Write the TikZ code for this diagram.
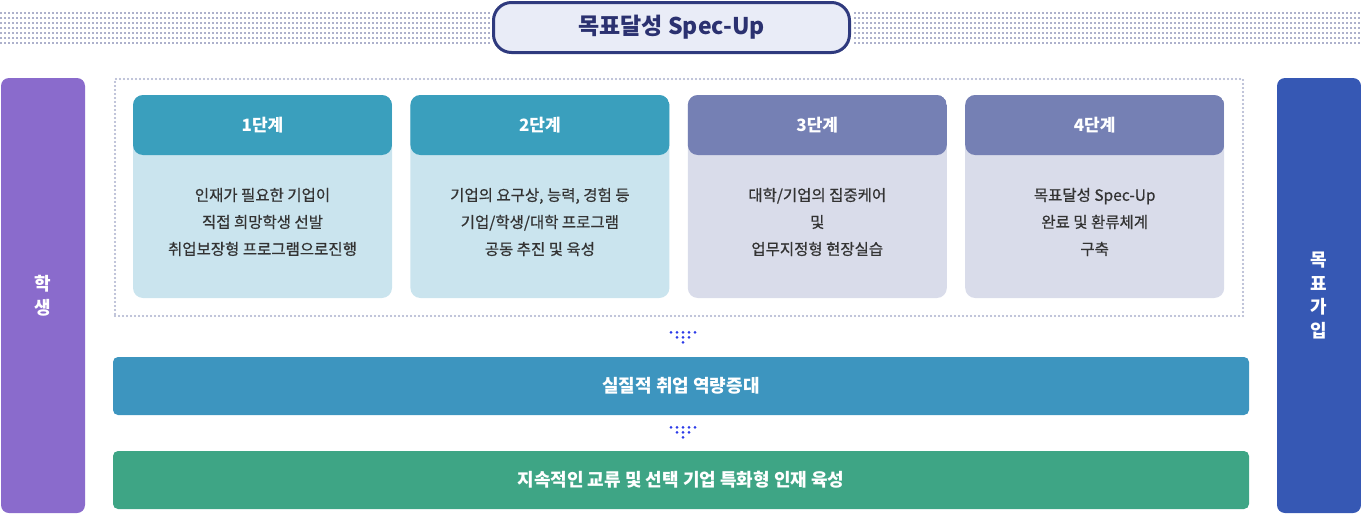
\documentclass[tikz,border=0pt]{standalone}
\usepackage{fontspec}
\setmainfont{Noto Sans CJK KR}
\newfontfamily\krmed[FakeBold=0.6]{Noto Sans CJK KR}
\usetikzlibrary{positioning}

\definecolor{navy}{HTML}{2F3A7E}
\definecolor{navytext}{HTML}{2B3170}
\definecolor{titlefill}{HTML}{E9ECF7}
\definecolor{bandgray}{HTML}{ADB1CC}
\definecolor{framegray}{HTML}{ABB0CC}
\definecolor{stupurple}{HTML}{8A6BCC}
\definecolor{goalblue}{HTML}{3658B4}
\definecolor{tealhead}{HTML}{3A9FBD}
\definecolor{tealbody}{HTML}{CAE4EE}
\definecolor{slatehead}{HTML}{7580B4}
\definecolor{slatebody}{HTML}{D9DCEA}
\definecolor{gainblue}{HTML}{3D95BF}
\definecolor{growgreen}{HTML}{3EA585}
\definecolor{dotblue}{HTML}{2B3AE8}
\definecolor{bodygray}{HTML}{333333}

\begin{document}
\begin{tikzpicture}[x=1pt,y=-1pt,
    titlebox/.style={draw=navy,line width=3pt,fill=titlefill,rounded corners=18pt,
      minimum width=356pt,minimum height=50pt,text=navytext,font=\fontsize{23}{26}\selectfont\bfseries},
    sidebar/.style={rounded corners=8pt,minimum width=84pt,minimum height=435pt,inner sep=0pt,
      text=white,align=center,font=\fontsize{18}{23.5}\selectfont\bfseries},
    stepcard/.style={minimum width=259pt,minimum height=203pt,rounded corners=10pt,inner sep=0pt,
      path picture={\fill[#1] (path picture bounding box.north west)
        rectangle ([yshift=-60pt]path picture bounding box.north east);}},
    headtext/.style={text=white,font=\fontsize{17}{20}\selectfont\bfseries},
    bodytext/.style={text=bodygray,align=center,font=\krmed\fontsize{15.5}{27}\selectfont},
    wide/.style={rounded corners=5pt,minimum width=1136pt,minimum height=58pt,
      text=white,font=\fontsize{18}{21}\selectfont\bfseries},
    band/.style={bandgray,line width=2pt,dash pattern=on 2pt off 2pt}]
    \useasboundingbox (0,0) rectangle (1361,514);
    \foreach \k in {0,...,6} {
      \draw[band] (0,{13.3+5*\k}) -- (490,{13.3+5*\k});
      \draw[band] (854,{13.3+5*\k}) -- (1361,{13.3+5*\k});
    }
    \node[titlebox] (goal) at (671.5,27.5) {목표달성 Spec-Up};
    \node[sidebar,fill=stupurple] (stu) at (43,295.5) {학\\생};
    \node[sidebar,fill=goalblue] (join) at (1319,295.5) {목\\표\\가\\입};
    \node[draw=framegray,line width=2.2pt,line cap=round,dash pattern=on 0pt off 4pt,
      minimum width=1128pt,minimum height=237pt] (box) at (679,197.5) {};
    \node[stepcard=tealhead,fill=tealbody] (s1) at (262.5,196.5) {};
    \node[stepcard=tealhead,fill=tealbody,right=18pt of s1] (s2) {};
    \node[stepcard=slatehead,fill=slatebody,right=18pt of s2] (s3) {};
    \node[stepcard=slatehead,fill=slatebody,right=18pt of s3] (s4) {};
    \node[headtext] (h1) at ([yshift=-30pt]s1.north) {1단계};
    \node[headtext] (h2) at ([yshift=-30pt]s2.north) {2단계};
    \node[headtext] (h3) at ([yshift=-30pt]s3.north) {3단계};
    \node[headtext] (h4) at ([yshift=-30pt]s4.north) {4단계};
    \node[bodytext] (d1) at ([yshift=-25.5pt]s1.center) {인재가 필요한 기업이\\직접 희망학생 선발\\취업보장형 프로그램으로진행};
    \node[bodytext] (d2) at ([yshift=-25.5pt]s2.center) {기업의 요구상, 능력, 경험 등\\기업/학생/대학 프로그램\\공동 추진 및 육성};
    \node[bodytext] (d3) at ([yshift=-25.5pt]s3.center) {대학/기업의 집중케어\\및\\업무지정형 현장실습};
    \node[bodytext] (d4) at ([yshift=-25.5pt]s4.center) {목표달성 Spec-Up\\완료 및 환류체계\\구축};
    \node[wide,fill=gainblue] (gain) at (681,386) {실질적 취업 역량증대};
    \node[wide,fill=growgreen] (grow) at (681,480) {지속적인 교류 및 선택 기업 특화형 인재 육성};
    % dot arrows
    \coordinate (a1) at (683,332.3);
    \coordinate (a2) at (683,427.3);
    \foreach \c in {a1,a2} {
      \foreach \i in {-2,...,2} \fill[dotblue] ([xshift=\i*6pt]\c) circle[radius=1.5pt];
      \foreach \i in {-1,0,1} \fill[dotblue] ([xshift=\i*6pt,yshift=-5pt]\c) circle[radius=1.5pt];
      \fill[dotblue] ([yshift=-10pt]\c) circle[radius=1.5pt];
    }
\end{tikzpicture}
\end{document}
